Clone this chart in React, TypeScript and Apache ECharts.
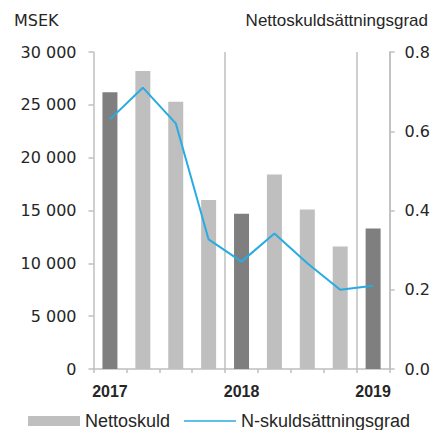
import React, { useEffect, useRef } from "react";
import * as echarts from "echarts";

const categories = ["2017", "Q1 2018", "Q2 2018", "Q3 2018", "2018", "Q1 2019", "Q2 2019", "Q3 2019", "2019"];
const yearLabels = ["2017", "", "", "", "2018", "", "", "", "2019"];
const nettoskuld = [26200, 28200, 25300, 16000, 14700, 18400, 15100, 11600, 13300];
const yearEnd = [true, false, false, false, true, false, false, false, true];
const skuldsattningsgrad = [0.63, 0.71, 0.62, 0.327, 0.271, 0.342, 0.267, 0.2, 0.21];

const FONT = "Liberation Sans";
const TICKFONT = "DejaVu Sans";

export default function App() {
  const ref = useRef<HTMLDivElement>(null);
  useEffect(() => {
    if (!ref.current) return;
    const chart = echarts.init(ref.current, undefined, { renderer: "svg" });
    chart.setOption({
      animation: false,
      textStyle: { fontFamily: FONT },
      grid: { left: 93.5, right: 43, top: 52, bottom: 61 },
      graphic: [
        { type: "text", left: 14, top: 12, style: { text: "MSEK", fontSize: 16, fontFamily: TICKFONT, fill: "#262626" } },
        { type: "text", right: 5, top: 12, style: { text: "Nettoskuldsättningsgrad", fontSize: 17, fontFamily: FONT, fill: "#262626" } },
      ],
      legend: {
        bottom: 0,
        left: 28,
        width: 405,
        padding: 0,
        itemWidth: 52,
        itemHeight: 10,
        itemGap: 14,
        textStyle: { fontSize: 18, color: "#262626", fontFamily: FONT },
        data: [
          { name: "Nettoskuld", icon: "rect" },
          { name: "N-skuldsättningsgrad", icon: "path://M0,0H52V1.6H0Z" },
        ],
      },
      xAxis: {
        type: "category",
        data: categories,
        boundaryGap: true,
        axisLine: { show: true, lineStyle: { color: "#bfbfbf", width: 1.5 } },
        axisTick: { show: true, interval: 0, length: 4, lineStyle: { color: "#bfbfbf", width: 1.5 } },
        axisLabel: {
          interval: 0,
          margin: 14,
          formatter: (_v: string, i: number) => yearLabels[i],
          fontSize: 16,
          fontWeight: "bold",
          color: "#262626",
          fontFamily: FONT,
        },
        splitLine: {
          show: true,
          interval: (i: number) => i === 4 || i === 8,
          lineStyle: { color: "#bfbfbf", width: 1.5 },
        },
      },
      yAxis: [
        {
          type: "value",
          min: 0,
          max: 30000,
          interval: 5000,
          axisLine: { show: true, lineStyle: { color: "#bfbfbf", width: 1.5 } },
          axisTick: { show: true, length: 5, lineStyle: { color: "#bfbfbf", width: 1.5 } },
          splitLine: { show: false },
          axisLabel: {
            margin: 17,
            fontSize: 16,
            color: "#262626",
            fontFamily: TICKFONT,
            formatter: (v: number) => String(v).replace(/\B(?=(\d{3})+(?!\d))/g, " "),
          },
        },
        {
          type: "value",
          min: 0,
          max: 0.8,
          interval: 0.2,
          position: "right",
          axisLine: { show: true, lineStyle: { color: "#bfbfbf", width: 1.5 } },
          axisTick: { show: true, length: 5, lineStyle: { color: "#bfbfbf", width: 1.5 } },
          splitLine: { show: false },
          axisLabel: {
            margin: 15,
            fontSize: 16,
            color: "#262626",
            fontFamily: TICKFONT,
            formatter: (v: number) => v.toFixed(1),
          },
        },
      ],
      series: [
        {
          name: "Nettoskuld",
          type: "bar",
          barWidth: 15,
          itemStyle: { color: "#bfbfbf" },
          data: nettoskuld.map((v, i) => ({
            value: v,
            itemStyle: { color: yearEnd[i] ? "#7f7f7f" : "#bfbfbf" },
          })),
        },
        {
          name: "N-skuldsättningsgrad",
          type: "line",
          yAxisIndex: 1,
          symbol: "none",
          lineStyle: { color: "#29abe2", width: 2 },
          itemStyle: { color: "#29abe2" },
          data: skuldsattningsgrad,
        },
      ],
    });
    return () => chart.dispose();
  }, []);
  return <div ref={ref} style={{ width: 433, height: 430, position: "absolute", left: 0, top: 0 }} />;
}
